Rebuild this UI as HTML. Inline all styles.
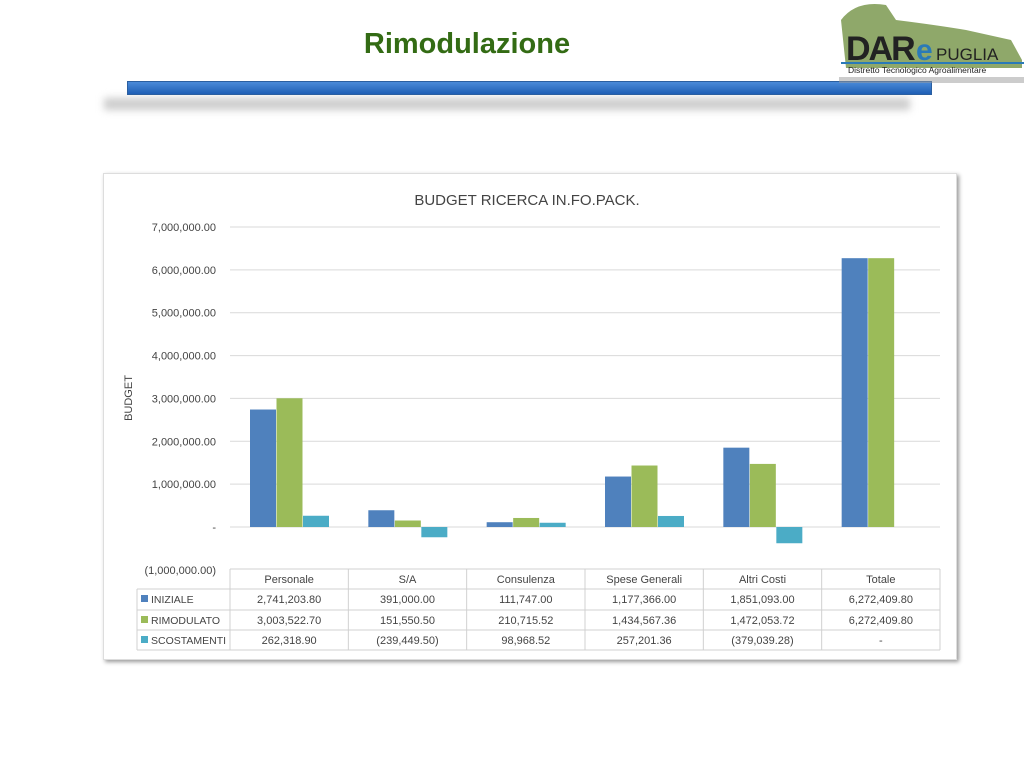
<!DOCTYPE html>
<html><head><meta charset="utf-8">
<style>
body{margin:0;width:1024px;height:768px;background:#fff;overflow:hidden;position:relative;font-family:"Liberation Sans",sans-serif}
.abs{position:absolute}
</style></head>
<body>
<div class="abs" style="left:300px;top:28px;width:334px;text-align:center;font-size:29px;font-weight:bold;color:#336b14;">Rimodulazione</div>
<div class="abs" style="left:104px;top:98px;width:806px;height:12px;background:#ccc;filter:blur(4px)"></div>
<div class="abs" style="left:127px;top:81px;width:803px;height:12px;background:linear-gradient(#4a8ad8,#1f5fb5);border:1px solid #2b5fa0"></div>
<div class="abs" style="left:836px;top:0;width:188px;height:90px">
<svg width="188" height="90"><path d="M5 20 Q20 0 50 5 L60 20 Q100 25 130 30 L175 40 L186 60 L186 68 L10 68 Z" fill="#8fa86a"/>
<text x="10" y="60" font-size="34" font-weight="bold" fill="#222" font-family="Liberation Sans" letter-spacing="-2">DAR</text>
<text x="80" y="60" font-size="30" font-weight="bold" fill="#2a7ab8" font-family="Liberation Sans">e</text>
<text x="100" y="60" font-size="17" fill="#222" font-family="Liberation Sans">PUGLIA</text>
<rect x="5" y="62" width="183" height="2" fill="#2a7ab8"/>
<text x="12" y="73" font-size="8.5" fill="#222" font-family="Liberation Sans">Distretto Tecnologico Agroalimentare</text>
<rect x="3" y="77" width="185" height="6" fill="#999" opacity="0.5"/></svg></div>
<div class="abs" style="left:103px;top:173px;width:852px;height:485px;border:1px solid #ddd;box-shadow:2px 2px 4px #999;background:#fff"></div>
<svg class="abs" style="left:0;top:0" width="1024" height="768" id="chart" font-family="Liberation Sans, sans-serif"></svg>
<script>
const categories=["Personale","S/A","Consulenza","Spese Generali","Altri Costi","Totale"];
const iniziale=[2741203.80,391000.00,111747.00,1177366.00,1851093.00,6272409.80];
const rimodulato=[3003522.70,151550.50,210715.52,1434567.36,1472053.72,6272409.80];
const scostamenti=[262318.90,-239449.50,98968.52,257201.36,-379039.28,0];
const labIni=["2,741,203.80","391,000.00","111,747.00","1,177,366.00","1,851,093.00","6,272,409.80"];
const labRim=["3,003,522.70","151,550.50","210,715.52","1,434,567.36","1,472,053.72","6,272,409.80"];
const labSco=["262,318.90","(239,449.50)","98,968.52","257,201.36","(379,039.28)","-"];
const ticks=[7000000,6000000,5000000,4000000,3000000,2000000,1000000,0,-1000000];
const tickLabels=["7,000,000.00","6,000,000.00","5,000,000.00","4,000,000.00","3,000,000.00","2,000,000.00","1,000,000.00","-","(1,000,000.00)"];
const svg=document.getElementById('chart');const NS="http://www.w3.org/2000/svg";
const X0=230,X1=940,cw=(X1-X0)/categories.length;
const y=v=>527-v*300/7000000;
function el(t,a,txt){const e=document.createElementNS(NS,t);for(const k in a)e.setAttribute(k,a[k]);if(txt!==undefined)e.textContent=txt;svg.appendChild(e);return e;}
let t=el('text',{x:527,y:205,'font-size':15,fill:'#444','text-anchor':'middle'},'BUDGET RICERCA IN.FO.PACK.');


t=el('text',{x:132,y:398,'font-size':11,fill:'#444','text-anchor':'middle',transform:'rotate(-90 132 398)'},'BUDGET');


ticks.forEach((v,i)=>{
 if(i<ticks.length-1){const g=el('line',{x1:X0,x2:X1,y1:y(v),y2:y(v),stroke:'#d9d9d9'});
 
 }
 const l=el('text',{x:216,y:y(v)+4,'font-size':11,fill:'#444','text-anchor':'end'},tickLabels[i]);
 
 
});
const series=[[iniziale,'#4f81bd','bar-iniziale'],[rimodulato,'#9bbb59','bar-rimodulato'],[scostamenti,'#4bacc6','bar-scostamenti']];
categories.forEach((c,i)=>{
 series.forEach((s,j)=>{
  const v=s[0][i];if(v===0)return;
  const bx=X0+i*cw+20+j*26.5;
  const r=el('rect',{x:bx,y:Math.min(y(v),y(0)),width:26,height:Math.abs(y(v)-y(0)),fill:s[1]});
  
  
 });
});
const rowsY=[569,589,610,630,650];
el('line',{x1:X0,x2:X1,y1:569,y2:569,stroke:'#d0d0d0'});
for(let k=1;k<5;k++)el('line',{x1:137,x2:X1,y1:rowsY[k],y2:rowsY[k],stroke:'#d0d0d0'});
el('line',{x1:137,x2:137,y1:589,y2:650,stroke:'#d0d0d0'});
for(let i=0;i<=categories.length;i++)el('line',{x1:X0+i*cw,x2:X0+i*cw,y1:569,y2:650,stroke:'#d0d0d0'});
categories.forEach((c,i)=>{
 const h=el('text',{x:X0+(i+.5)*cw,y:583,'font-size':11,fill:'#444','text-anchor':'middle'},c);
 
 
});
const rowData=[[labIni,'INIZIALE','#4f81bd'],[labRim,'RIMODULATO','#9bbb59'],[labSco,'SCOSTAMENTI','#4bacc6']];
rowData.forEach((r,k)=>{
 const yy=rowsY[k+1]+14;
 const sw=el('rect',{x:141,y:yy-8,width:7,height:7,fill:r[2]});
 
 
 const lt=el('text',{x:151,y:yy,'font-size':10.5,fill:'#444'},r[1]);
 
 
 r[0].forEach((v,i)=>{
  const c=el('text',{x:X0+(i+.5)*cw,y:yy,'font-size':11,fill:'#444','text-anchor':'middle'},v);
  
  
 });
});
</script>
</body></html>
